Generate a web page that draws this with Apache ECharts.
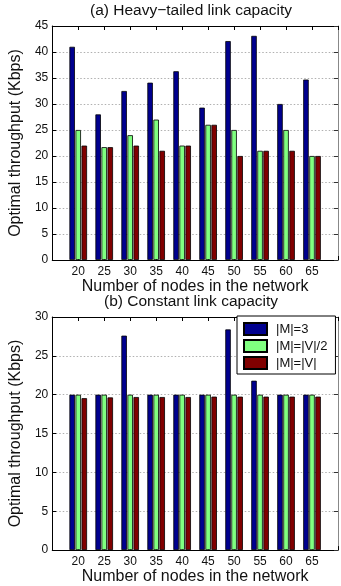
<!DOCTYPE html>
<html>
<head>
<meta charset="utf-8">
<script src="https://cdn.jsdelivr.net/npm/echarts@6/dist/echarts.min.js"></script>
<style>
html,body{margin:0;padding:0;background:#fff;}
#c{width:341px;height:586px;}
</style>
</head>
<body>
<div id="c"></div>
<script>
var nodes = [20, 25, 30, 35, 40, 45, 50, 55, 60, 65];
var seriesNames = ['|M|=3', '|M|=|V|/2', '|M|=|V|'];
// (a) Heavy-tailed link capacity
var heavyM3   = [41, 28, 32.5, 34.1, 36.3, 29.3, 42.1, 43.1, 30, 34.7];
var heavyMV2  = [25, 21.7, 24, 27, 22, 26, 25, 21, 25, 20];
var heavyMV   = [22, 21.7, 22, 21, 22, 26, 20, 21, 21, 20];
// (b) Constant link capacity
var constM3   = [20, 20, 27.6, 20, 20, 20, 28.4, 21.8, 20, 20];
var constMV2  = [20, 20, 20, 20, 20, 20, 20, 20, 20, 20];
var constMV   = [19.55, 19.65, 19.7, 19.7, 19.7, 19.75, 19.75, 19.75, 19.75, 19.75];
var yTicksA = [0, 45, 5];
var yTicksB = [0, 30, 5];
var titleA = '(a) Heavy\u2212tailed link capacity';
var titleB = '(b) Constant link capacity';
var xName = 'Number of nodes in the network';
var yName = 'Optimal throughput (Kbps)';

var colors = ['#00008F', '#80FF80', '#800000'];
var FONT = '"Liberation Sans", Arial, Helvetica, sans-serif';

function pairs(vals) { return nodes.map(function (n, i) { return [n, vals[i]]; }); }

function xAxes(gi, gap) {
  return [{
    type: 'value', gridIndex: gi, position: 'bottom', min: 15, max: 70, interval: 5,
    axisLine: { show: true, onZero: false, lineStyle: { color: '#000', width: 1 } },
    axisTick: { show: true, inside: true, length: 4, lineStyle: { color: '#000' } },
    axisLabel: { show: true, color: '#111', fontSize: 12, fontFamily: FONT, margin: 6,
      formatter: function (v) { return nodes.indexOf(v) >= 0 ? String(v) : ''; } },
    splitLine: { show: false },
    name: xName, nameLocation: 'middle', nameGap: gap,
    nameTextStyle: { color: '#111', fontSize: 16, fontFamily: FONT }
  }, {
    type: 'value', gridIndex: gi, position: 'top', min: 15, max: 70, interval: 5,
    axisLine: { show: true, onZero: false, lineStyle: { color: '#000', width: 1 } },
    axisTick: { show: true, inside: true, length: 4, lineStyle: { color: '#000' } },
    axisLabel: { show: false }, splitLine: { show: false }
  }];
}
function yAxes(gi, t) {
  return [{
    type: 'value', gridIndex: gi, position: 'left', min: t[0], max: t[1], interval: t[2],
    axisLine: { show: true, onZero: false, lineStyle: { color: '#000', width: 1 } },
    axisTick: { show: true, inside: true, length: 4, lineStyle: { color: '#000' } },
    axisLabel: { color: '#111', fontSize: 12, fontFamily: FONT, margin: 4 },
    splitLine: { show: true, lineStyle: { type: [1.5, 2], color: '#b0b0b0', width: 1 } },
    name: yName, nameLocation: 'middle', nameGap: 21, nameRotate: 90,
    nameTextStyle: { color: '#111', fontSize: 16, fontFamily: FONT }
  }, {
    type: 'value', gridIndex: gi, position: 'right', min: t[0], max: t[1], interval: t[2],
    axisLine: { show: true, onZero: false, lineStyle: { color: '#888', width: 1 } },
    axisTick: { show: true, inside: true, length: 4, lineStyle: { color: '#333' } },
    axisLabel: { show: false }, splitLine: { show: false }
  }];
}
function barSeries(gi, arrs) {
  return arrs.map(function (a, k) {
    return {
      type: 'bar', name: seriesNames[k], xAxisIndex: gi * 2, yAxisIndex: gi * 2,
      data: pairs(a), barWidth: 5.5, barGap: '10%',
      itemStyle: { color: colors[k], borderColor: '#000', borderWidth: 0.8 },
      emphasis: { disabled: true }
    };
  });
}

var chart = echarts.init(document.getElementById('c'), null, { renderer: 'canvas' });
chart.setOption({
  animation: false,
  backgroundColor: '#fff',
  textStyle: { fontFamily: FONT },
  title: [
    { text: titleA, left: 191, top: 3, textAlign: 'center', padding: 0,
      textStyle: { fontSize: 15.5, fontWeight: 'normal', color: '#111', fontFamily: FONT } },
    { text: titleB, left: 191, top: 294, textAlign: 'center', padding: 0,
      textStyle: { fontSize: 15.5, fontWeight: 'normal', color: '#111', fontFamily: FONT } }
  ],
  grid: [
    { left: 44, top: 26, width: 296, height: 234 },
    { left: 44, top: 317, width: 296, height: 234 }
  ],
  legend: {
    data: seriesNames, orient: 'vertical', left: 237, top: 316,
    icon: 'rect', itemWidth: 23, itemHeight: 12, itemGap: 3,
    padding: [6, 8, 4, 6],
    backgroundColor: '#fff', borderColor: '#000', borderWidth: 1,
    textStyle: { fontSize: 13, color: '#111', fontFamily: FONT, padding: [0, 0, 0, 4] },
    selectedMode: false
  },
  xAxis: xAxes(0, 14).concat(xAxes(1, 14)),
  yAxis: yAxes(0, yTicksA).concat(yAxes(1, yTicksB)),
  series: barSeries(0, [heavyM3, heavyMV2, heavyMV]).concat(barSeries(1, [constM3, constMV2, constMV]))
});
</script>
</body>
</html>
